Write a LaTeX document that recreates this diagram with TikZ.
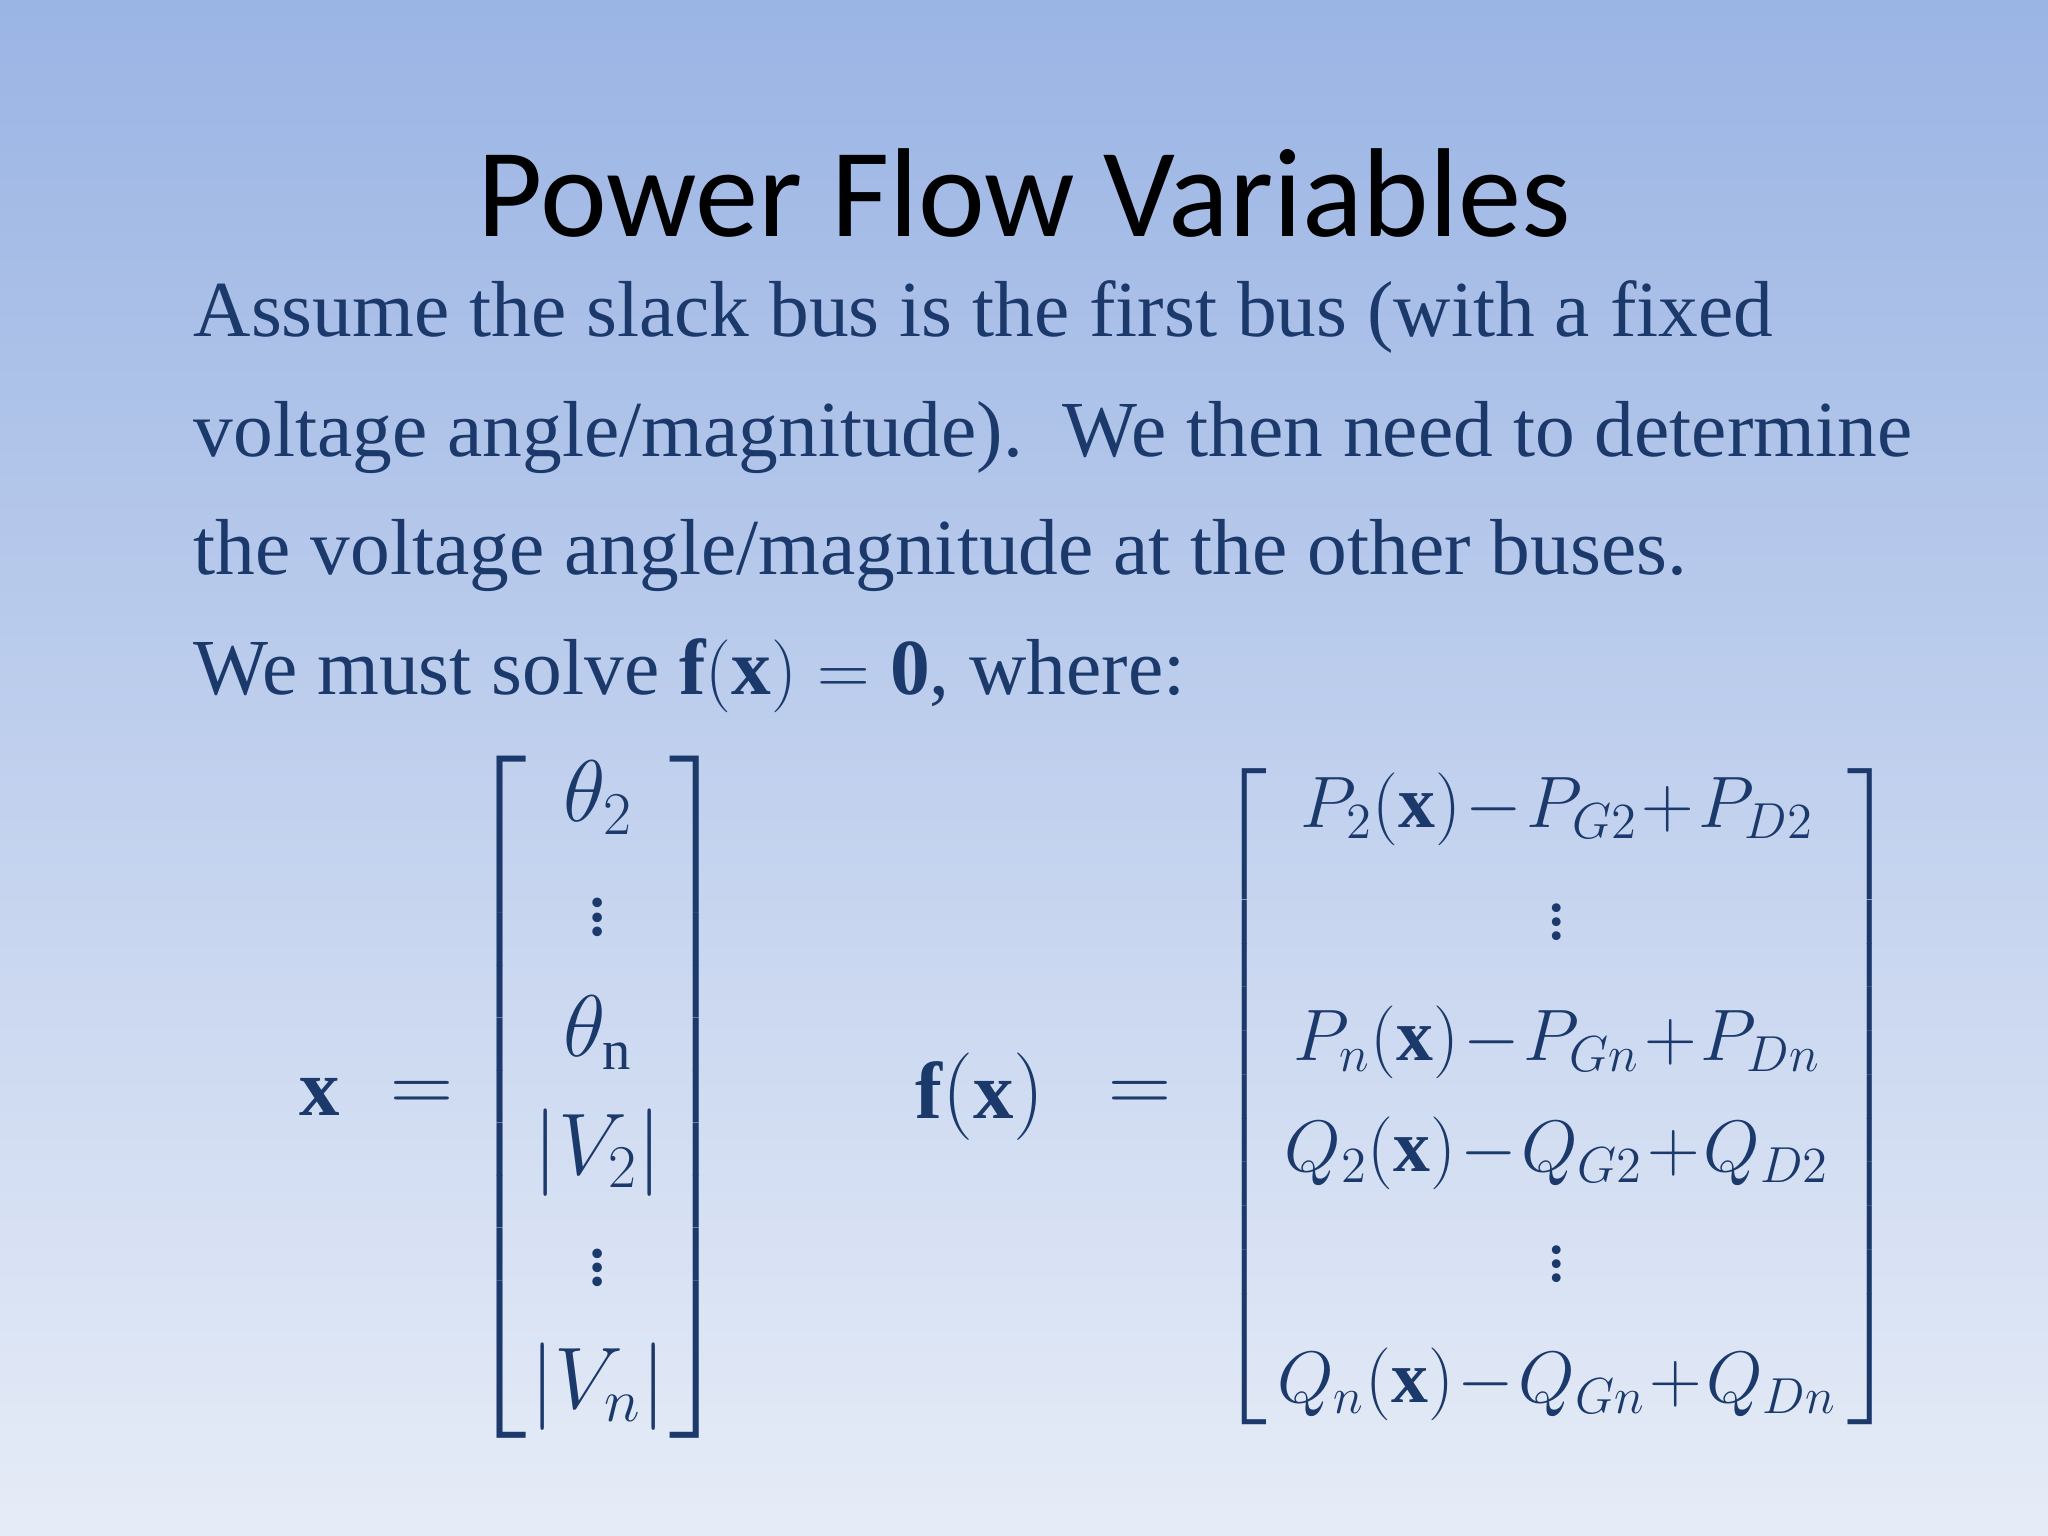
\documentclass[tikz,border=0pt]{standalone}
\usepackage{amsmath}
\usepackage{fontspec}
\setmainfont{Liberation Serif}
\newfontfamily\titlefont{Carlito}
\definecolor{navy}{HTML}{1B3A6B}
\definecolor{topbg}{HTML}{9AB4E4}
\definecolor{botbg}{HTML}{E6ECF7}
\tikzset{body/.style={anchor=base west,inner sep=0,text=navy,font=\fontsize{22.6}{26}\selectfont},
mat/.style={text=navy,inner sep=0,font=\fontsize{23}{26}\selectfont}}
\begin{document}
\begin{tikzpicture}
\shade[top color=topbg,bottom color=botbg] (0,0) rectangle (20.48,15.36);
\useasboundingbox (0,0) rectangle (20.48,15.36);
\node (title) at (10.24,13.43) {\titlefont\fontsize{36}{42}\selectfont Power Flow Variables};
\node[body] (l1) at (1.93,11.99) {Assume the slack bus is the first bus (with a fixed};
\node[body] (l2) at (1.93,10.79) {voltage angle/magnitude).\ \ We then need to determine};
\node[body] (l3) at (1.93,9.61) {the voltage angle/magnitude at the other buses.};
\node[body] (l4) at (1.93,8.41) {We must solve $\mathbf{f}(\mathbf{x})=\mathbf{0}$, where:};
\node[mat] (xl) at (3.2,4.39) {$\mathbf{x}$};
\node[mat] (xe) at (4.22,4.39) {$=$};
\node[mat] (xm) at (5.98,4.39) {$\arraycolsep=1pt\left[\begin{array}{c}\theta_2\\[0.22cm] \vdots\\[0.3cm] \theta_{\mathrm{n}}\\[0.25cm] |V_2|\\[0.2cm] \vdots\\[0.3cm] |V_n|\end{array}\right]$};
\node[mat] (fl) at (9.8,4.39) {$\mathbf{f}(\mathbf{x})$};
\node[mat] (fe) at (11.4,4.39) {$=$};
\node[mat,font=\fontsize{21}{26}\selectfont] (fm) at (15.57,4.39) {$\medmuskip=1mu\arraycolsep=3pt\left[\begin{array}{c}P_2(\mathbf{x})-P_{G2}+P_{D2}\\[0.2cm] \vdots\\[0.3cm] P_n(\mathbf{x})-P_{Gn}+P_{Dn}\\[0.2cm] Q_2(\mathbf{x})-Q_{G2}+Q_{D2}\\[0.18cm] \vdots\\[0.3cm] Q_n(\mathbf{x})-Q_{Gn}+Q_{Dn}\end{array}\right]$};
\end{tikzpicture}
\end{document}
